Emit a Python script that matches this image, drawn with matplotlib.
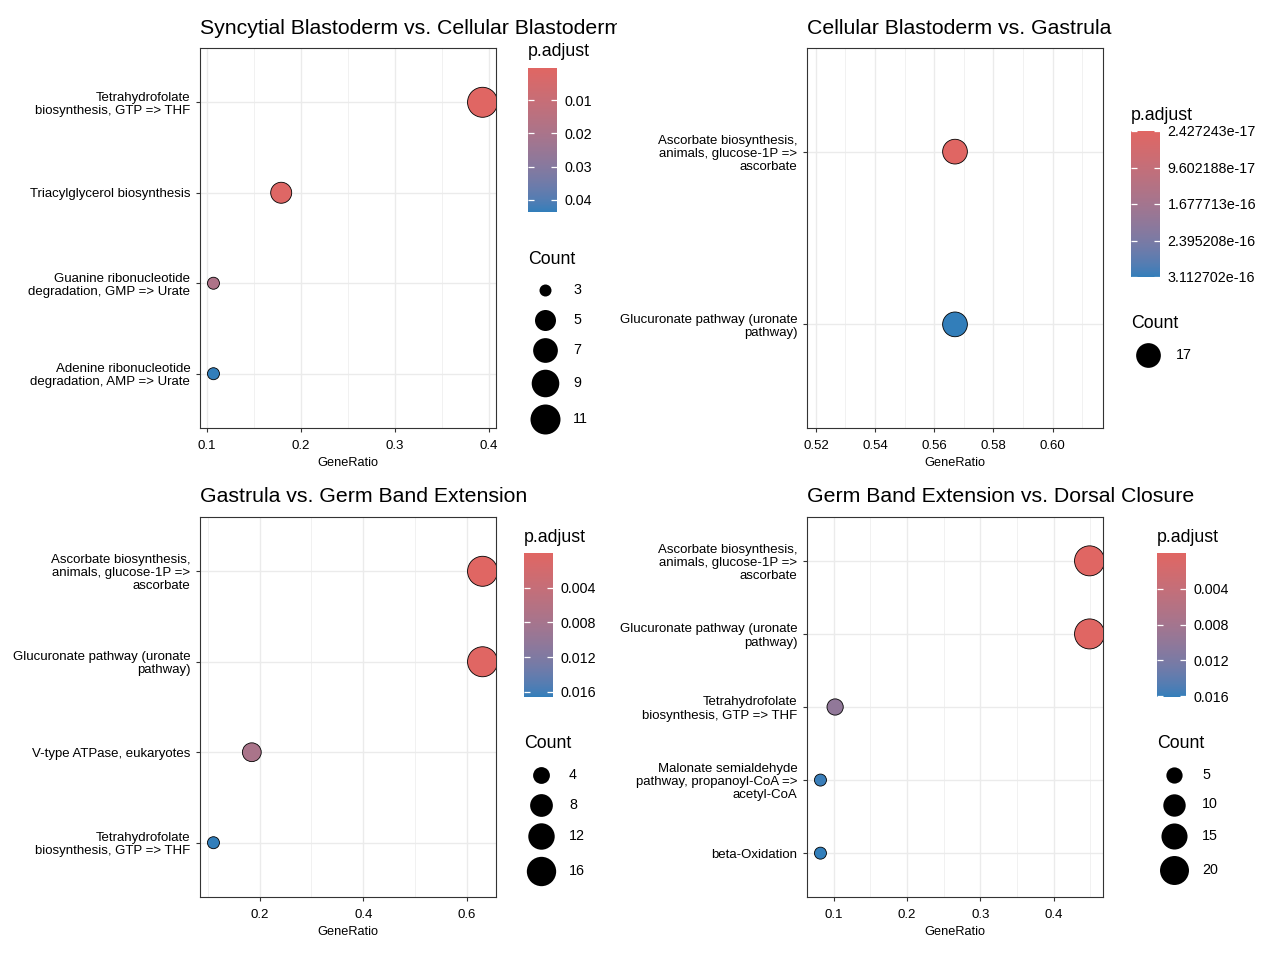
import numpy as np
import matplotlib
matplotlib.use("Agg")
import matplotlib.pyplot as plt
from matplotlib.colors import ListedColormap, to_rgb
from matplotlib.ticker import MultipleLocator, FormatStrFormatter
from matplotlib.transforms import Bbox, TransformedBbox

plt.rcParams['font.family'] = ['Liberation Sans', 'DejaVu Sans']

W, H, DPI = 1285, 957, 100

# ---- data, terms listed bottom -> top ----
THF = "Tetrahydrofolate\nbiosynthesis, GTP => THF"
ASC = "Ascorbate biosynthesis,\nanimals, glucose-1P =>\nascorbate"
GLU = "Glucuronate pathway (uronate\npathway)"

p1_title = "Syncytial Blastoderm vs. Cellular Blastoderm"
p1_terms = ["Adenine ribonucleotide\ndegradation, AMP => Urate",
            "Guanine ribonucleotide\ndegradation, GMP => Urate",
            "Triacylglycerol biosynthesis", THF]
p1_ratio = [0.107, 0.107, 0.179, 0.393]
p1_count = [3, 3, 5, 11]
p1_padj = [0.0437, 0.0187, 0.0012, 0.0003]
p1_cticks = [0.01, 0.02, 0.03, 0.04]
p1_breaks = [3, 5, 7, 9, 11]

p2_title = "Cellular Blastoderm vs. Gastrula"
p2_terms = [GLU, ASC]
p2_ratio = [0.567, 0.567]
p2_count = [17, 17]
p2_padj = [3.112702e-16, 2.427243e-17]
p2_cticks = [2.427243e-17, 9.602188e-17, 1.677713e-16, 2.395208e-16, 3.112702e-16]
p2_clabels = ["2.427243e-17", "9.602188e-17", "1.677713e-16", "2.395208e-16", "3.112702e-16"]
p2_breaks = [17]

p3_title = "Gastrula vs. Germ Band Extension"
p3_terms = [THF, "V-type ATPase, eukaryotes", GLU, ASC]
p3_ratio = [0.111, 0.185, 0.630, 0.630]
p3_count = [3, 5, 17, 17]
p3_padj = [0.0166, 0.0075, 2e-5, 1.5e-5]
p3_cticks = [0.004, 0.008, 0.012, 0.016]
p3_breaks = [4, 8, 12, 16]

p4_title = "Germ Band Extension vs. Dorsal Closure"
p4_terms = ["beta-Oxidation",
            "Malonate semialdehyde\npathway, propanoyl-CoA =>\nacetyl-CoA",
            THF, GLU, ASC]
p4_ratio = [0.082, 0.082, 0.102, 0.449, 0.449]
p4_count = [4, 4, 5, 22, 22]
p4_padj = [0.0161, 0.0158, 0.0100, 2e-6, 1e-6]
p4_cticks = [0.004, 0.008, 0.012, 0.016]
p4_breaks = [5, 10, 15, 20]


# gradient red -> blue interpolated in Lab like ggplot
M = np.array([[0.4124, 0.3576, 0.1805], [0.2126, 0.7152, 0.0722], [0.0193, 0.1192, 0.9505]])
WHITE = np.array([0.95047, 1.0, 1.08883])


def to_lab(hexcol):
    c = np.array(to_rgb(hexcol))
    lin = np.where(c <= 0.04045, c / 12.92, ((c + 0.055) / 1.055) ** 2.4)
    t = M @ lin / WHITE
    f = np.where(t > (6 / 29) ** 3, np.cbrt(t), t / (3 * (6 / 29) ** 2) + 4 / 29)
    return np.array([116 * f[1] - 16, 500 * (f[0] - f[1]), 200 * (f[1] - f[2])])


def from_lab(lab):
    fy = (lab[0] + 16) / 116
    f = np.array([fy + lab[1] / 500, fy, fy - lab[2] / 200])
    t = np.where(f > 6 / 29, f ** 3, 3 * (6 / 29) ** 2 * (f - 4 / 29)) * WHITE
    lin = np.linalg.solve(M, t)
    c = np.where(lin <= 0.0031308, 12.92 * lin, 1.055 * np.clip(lin, 0, None) ** (1 / 2.4) - 0.055)
    return np.clip(c, 0, 1)


lo, hi = to_lab("#e06663"), to_lab("#327eba")
CMAP = ListedColormap([from_lab(lo + (hi - lo) * f) for f in np.linspace(0, 1, 256)])


def dot_px(count, cmin, cmax):
    frac = 0.5 if cmax == cmin else (count - cmin) / (cmax - cmin)
    return 1.2 + 3.6 * (3 + 5 * np.sqrt(frac))


def px_rect(x0, y0, x1, y1):
    return [x0 / W, 1 - y1 / H, (x1 - x0) / W, (y1 - y0) / H]


fig = plt.figure(figsize=(W / DPI, H / DPI), dpi=DPI)
ov = fig.add_axes([0, 0, 1, 1])
ov.set_xlim(0, W)
ov.set_ylim(H, 0)
ov.axis('off')


def draw_panel(axbox, cbox, title, terms, ratio, count, padj, cticks, breaks,
               xstep, xfmt, clabels=None, clip_x=None):
    ax = fig.add_axes(px_rect(*axbox))
    cmin, cmax = min(count), max(count)
    sizes = [(dot_px(c, cmin, cmax) * 72 / DPI) ** 2 for c in count]
    y = np.arange(len(terms))
    sc = ax.scatter(ratio, y, s=sizes, c=padj, cmap=CMAP, vmin=min(padj), vmax=max(padj),
                    edgecolors='black', linewidths=0.6, zorder=3)
    span = max(ratio) - min(ratio)
    pad = span * 0.05 if span > 0 else 0.05
    ax.set_xlim(min(ratio) - pad, max(ratio) + pad)
    ax.set_ylim(-0.6, len(terms) - 0.4)
    ax.set_yticks(y)
    ax.set_yticklabels(terms, linespacing=1.12)
    ax.xaxis.set_major_locator(MultipleLocator(xstep))
    ax.xaxis.set_minor_locator(MultipleLocator(xstep / 2))
    ax.xaxis.set_major_formatter(FormatStrFormatter(xfmt))
    ax.grid(which='major', color='#EBEBEB', lw=1.0)
    ax.grid(which='minor', axis='x', color='#EBEBEB', lw=0.5)
    ax.set_axisbelow(True)
    ax.tick_params(which='minor', length=0)
    ax.tick_params(which='major', length=3, width=0.8, color='#333333',
                   labelsize=9.5, labelcolor='black')
    ax.tick_params(axis='y', pad=4)
    ax.tick_params(axis='x', pad=5.5)
    for s in ax.spines.values():
        s.set_color('#333333')
        s.set_linewidth(0.8)
    ax.set_xlabel('GeneRatio', fontsize=9.2, labelpad=4)

    t = fig.text(axbox[0] / W, 1 - (axbox[1] - 20) / H, title, fontsize=15.3, va='center', ha='left')
    if clip_x is not None:
        t.set_clip_box(TransformedBbox(Bbox.from_extents(0, 0, clip_x / W, 1), fig.transFigure))
        t.set_clip_on(True)

    # colour bar
    cax = fig.add_axes(px_rect(*cbox))
    cb = fig.colorbar(sc, cax=cax)
    cb.outline.set_visible(False)
    cax.invert_yaxis()
    cb.set_ticks(cticks)
    if clabels is not None:
        cb.set_ticklabels(clabels)
    cax.tick_params(left=True, right=True, labelleft=False, labelright=True, direction='in',
                    length=4, width=0.9, color='white', labelsize=10.3, pad=5.4)
    ov.text(cbox[0], cbox[1] - 16, 'p.adjust', fontsize=12.8, va='center', ha='left')

    # size legend
    ty = cbox[3] + 47
    ov.text(cbox[0], ty, 'Count', fontsize=12.8, va='center', ha='left')
    kd = [dot_px(b, cmin, cmax) for b in breaks]
    kh = [max(v + 7, 29.5) for v in kd]
    cx = cbox[0] + 17
    yc = ty + 31
    for i, b in enumerate(breaks):
        if i > 0:
            yc += (kh[i - 1] + kh[i]) / 2
        ov.scatter([cx], [yc], s=(kd[i] * 72 / DPI) ** 2, color='black', lw=0)
        ov.text(cx + 28, yc, str(b), fontsize=10.3, va='center', ha='left')


draw_panel((200, 48, 496, 428), (528, 68, 557, 212), p1_title, p1_terms, p1_ratio, p1_count,
           p1_padj, p1_cticks, p1_breaks, 0.1, '%.1f', clip_x=617)
draw_panel((807, 48, 1103, 428), (1131, 131, 1160, 277), p2_title, p2_terms, p2_ratio, p2_count,
           p2_padj, p2_cticks, p2_breaks, 0.02, '%.2f', clabels=p2_clabels)
draw_panel((200, 517, 496, 897), (524, 553, 553, 697), p3_title, p3_terms, p3_ratio, p3_count,
           p3_padj, p3_cticks, p3_breaks, 0.2, '%.1f')
draw_panel((807, 517, 1103, 897), (1157, 553, 1186, 697), p4_title, p4_terms, p4_ratio, p4_count,
           p4_padj, p4_cticks, p4_breaks, 0.1, '%.1f')

fig.savefig("out.png", dpi=DPI)
